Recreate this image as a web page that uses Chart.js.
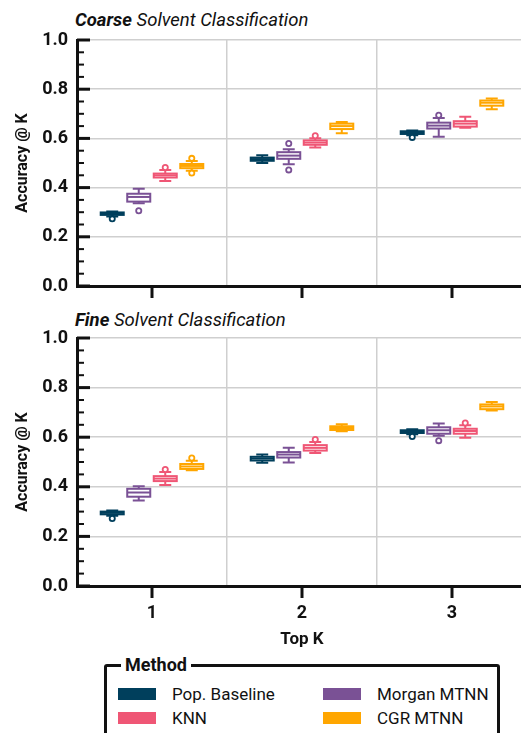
<!DOCTYPE html>
<html>
<head>
<meta charset="utf-8">
<script src="https://cdn.jsdelivr.net/npm/chart.js@4.4.0/dist/chart.umd.min.js"></script>
<style>
html, body { margin: 0; padding: 0; background: #fff; overflow: hidden; width: 521px; height: 733px; }
body { position: relative; font-family: Roboto, sans-serif; color: #111; }
.panel { position: absolute; left: 0; width: 527px; }
.panel canvas { display: block; }
.title { position: absolute; left: 75px; font-size: 18.5px; font-style: italic; white-space: nowrap; line-height: 22px; }
.title b { font-weight: 700; }
#legend { position: absolute; left: 104px; top: 664px; width: 396px; height: 100px; box-sizing: border-box;
  border: 3px solid #111; border-radius: 3px; }
#legend .head { position: absolute; left: 14px; top: -12px; padding: 0 4px; background: #fff;
  font-weight: 700; font-size: 18px; line-height: 20px; }
#legend .item { position: absolute; font-size: 17px; line-height: 20px; white-space: nowrap; }
#legend .item span { position: absolute; left: 0; top: 4px; width: 38px; height: 12px; }
#legend .item em { font-style: normal; position: absolute; left: 54px; top: 0; }
</style>
</head>
<body>
<div class="title" style="top:9px"><b>Coarse</b> Solvent Classification</div>
<div class="panel" style="top:0; height:307px"><canvas id="coarseChart"></canvas></div>
<div class="title" style="top:309px"><b>Fine</b> Solvent Classification</div>
<div class="panel" style="top:300px; height:350px"><canvas id="fineChart"></canvas></div>
<div id="legend"><div class="head">Method</div></div>
<script>
// Categories and series
const topK = ['1', '2', '3'];
const methods = ['Pop. Baseline', 'Morgan MTNN', 'KNN', 'CGR MTNN'];
const methodColors = ['#003f5c', '#7a5195', '#ef5675', '#ffa600'];

// Box stats per K: [lower whisker, q1, median, q3, upper whisker]
const coarseBaseline = [[0.283, 0.289, 0.294, 0.299, 0.303], [0.500, 0.509, 0.516, 0.522, 0.532], [0.613, 0.618, 0.624, 0.629, 0.632]];
const coarseMorgan = [[0.336, 0.343, 0.362, 0.375, 0.395], [0.495, 0.517, 0.530, 0.544, 0.556], [0.607, 0.640, 0.652, 0.664, 0.683]];
const coarseKnn = [[0.427, 0.441, 0.450, 0.457, 0.472], [0.563, 0.574, 0.583, 0.592, 0.601], [0.643, 0.648, 0.660, 0.670, 0.688]];
const coarseCgr = [[0.469, 0.479, 0.488, 0.496, 0.508], [0.621, 0.638, 0.650, 0.660, 0.667], [0.719, 0.733, 0.745, 0.754, 0.762]];
const coarseBaselineOut = [[0.273], [], [0.604]];
const coarseMorganOut = [[0.306], [0.472, 0.579], [0.694]];
const coarseKnnOut = [[0.482], [0.611], []];
const coarseCgrOut = [[0.459, 0.519], [], []];

const fineBaseline = [[0.283, 0.289, 0.295, 0.300, 0.304], [0.497, 0.506, 0.514, 0.521, 0.530], [0.612, 0.617, 0.623, 0.628, 0.632]];
const fineMorgan = [[0.345, 0.360, 0.377, 0.392, 0.402], [0.498, 0.518, 0.530, 0.540, 0.557], [0.606, 0.614, 0.628, 0.640, 0.655]];
const fineKnn = [[0.407, 0.423, 0.433, 0.443, 0.460], [0.536, 0.546, 0.557, 0.568, 0.581], [0.598, 0.614, 0.625, 0.634, 0.648]];
const fineCgr = [[0.467, 0.472, 0.482, 0.492, 0.505], [0.624, 0.629, 0.637, 0.644, 0.652], [0.708, 0.713, 0.724, 0.732, 0.742]];
const fineBaselineOut = [[0.272], [], [0.603]];
const fineMorganOut = [[], [], [0.586]];
const fineKnnOut = [[0.470], [0.591], [0.657]];
const fineCgrOut = [[0.516], [], []];

const yTicks = [0, 0.2, 0.4, 0.6, 0.8, 1.0];

// Whiskers, medians, caps and fliers drawn on top of the floating bars
const boxPlugin = {
    id: 'boxes',
    afterDatasetsDraw(chart) {
        const ctx = chart.ctx;
        const ys = chart.scales.y;
        const py = v => ys.getPixelForValue(v);
        chart.data.datasets.forEach((ds, di) => {
            chart.getDatasetMeta(di).data.forEach((bar, i) => {
                const [lo, q1, med, q3, hi] = ds.stats[i];
                const x = bar.x, w = bar.width, half = w / 2, cap = w * 0.26;
                ctx.save();
                ctx.strokeStyle = ds.boxColor;
                ctx.lineWidth = 2;
                ctx.fillStyle = '#fff';
                ctx.beginPath();
                ctx.moveTo(x, py(q3)); ctx.lineTo(x, py(hi));
                ctx.moveTo(x, py(q1)); ctx.lineTo(x, py(lo));
                ctx.moveTo(x - cap, py(hi)); ctx.lineTo(x + cap, py(hi));
                ctx.moveTo(x - cap, py(lo)); ctx.lineTo(x + cap, py(lo));
                ctx.stroke();
                ctx.fillRect(x - half, py(q3), w, py(q1) - py(q3));
                ctx.strokeRect(x - half, py(q3), w, py(q1) - py(q3));
                ctx.beginPath();
                ctx.moveTo(x - half, py(med)); ctx.lineTo(x + half, py(med));
                ctx.stroke();
                ctx.lineWidth = 1.8;
                ds.outliers[i].forEach(v => {
                    ctx.beginPath();
                    ctx.arc(x, py(v), 2.6, 0, Math.PI * 2);
                    ctx.fill();
                    ctx.stroke();
                });
                ctx.restore();
            });
        });
    }
};

// Inward y ticks (major + minor) and outward x ticks
const tickPlugin = {
    id: 'tickMarks',
    afterDraw(chart) {
        const ctx = chart.ctx, xs = chart.scales.x, ys = chart.scales.y, area = chart.chartArea;
        ctx.save();
        ctx.strokeStyle = '#111';
        for (let k = 0; k <= 20; k++) {
            const yy = ys.getPixelForValue(k * 0.05);
            const major = k % 4 === 0;
            ctx.lineWidth = major ? 3 : 2;
            ctx.beginPath();
            ctx.moveTo(area.left, yy);
            ctx.lineTo(area.left + (major ? 13 : 7), yy);
            ctx.stroke();
        }
        ctx.lineWidth = 3;
        topK.forEach((_, i) => {
            const xx = xs.getPixelForTick(i);
            ctx.beginPath();
            ctx.moveTo(xx, area.bottom);
            ctx.lineTo(xx, area.bottom + 12);
            ctx.stroke();
        });
        ctx.restore();
    }
};

function makeChart(id, stats, outliers, showX, topPad, xHeight) {
    return new Chart(document.getElementById(id), {
        type: 'bar',
        data: {
            labels: topK,
            datasets: methods.map((m, i) => ({
                label: m,
                data: stats[i].map(s => [s[1], s[3]]),
                stats: stats[i],
                outliers: outliers[i],
                boxColor: methodColors[i],
                backgroundColor: '#fff',
                borderWidth: 0,
                categoryPercentage: 0.707,
                barPercentage: 0.868
            }))
        },
        options: {
            responsive: true,
            maintainAspectRatio: false,
            animation: false,
            layout: { padding: { top: topPad, left: 0, right: 0, bottom: 0 } },
            plugins: { legend: { display: false }, tooltip: { enabled: false } },
            scales: {
                x: {
                    grid: { offset: true, color: '#cfcfcf', lineWidth: 1.5, drawTicks: false },
                    border: { color: '#111', width: 3 },
                    ticks: { display: showX, padding: 17, color: '#111', font: { family: 'Roboto', size: 18, weight: 'bold' } },
                    title: { display: showX, text: 'Top K', color: '#111', padding: { top: 0, bottom: 0 },
                        font: { family: 'Roboto', size: 17, weight: 'bold' } },
                    afterFit: s => { s.height = xHeight; }
                },
                y: {
                    min: 0, max: 1,
                    afterBuildTicks: s => { s.ticks = yTicks.map(v => ({ value: v })); },
                    grid: { color: '#cfcfcf', lineWidth: 1.5, drawTicks: false },
                    border: { color: '#111', width: 3 },
                    ticks: { padding: 9, color: '#111', font: { family: 'Roboto', size: 18, weight: 'bold' },
                        callback: v => v.toFixed(1) },
                    title: { display: true, text: 'Accuracy @ K', color: '#111', padding: { top: 13, bottom: 0 },
                        font: { family: 'Roboto', size: 16, weight: 'bold' } },
                    afterFit: s => { s.width = 77; }
                }
            }
        },
        plugins: [boxPlugin, tickPlugin]
    });
}

makeChart('coarseChart',
    [coarseBaseline, coarseMorgan, coarseKnn, coarseCgr],
    [coarseBaselineOut, coarseMorganOut, coarseKnnOut, coarseCgrOut],
    false, 40, 21);

makeChart('fineChart',
    [fineBaseline, fineMorgan, fineKnn, fineCgr],
    [fineBaselineOut, fineMorganOut, fineKnnOut, fineCgrOut],
    true, 38, 64);

// Legend in a framed box, two columns
const legend = document.getElementById('legend');
methods.forEach((m, i) => {
    const item = document.createElement('div');
    item.className = 'item';
    item.style.left = (i % 2 === 0 ? 11 : 216) + 'px';
    item.style.top = (i < 2 ? 17 : 41) + 'px';
    item.innerHTML = '<span style="background:' + methodColors[i] + '"></span><em>' + m + '</em>';
    legend.appendChild(item);
});
</script>
</body>
</html>
